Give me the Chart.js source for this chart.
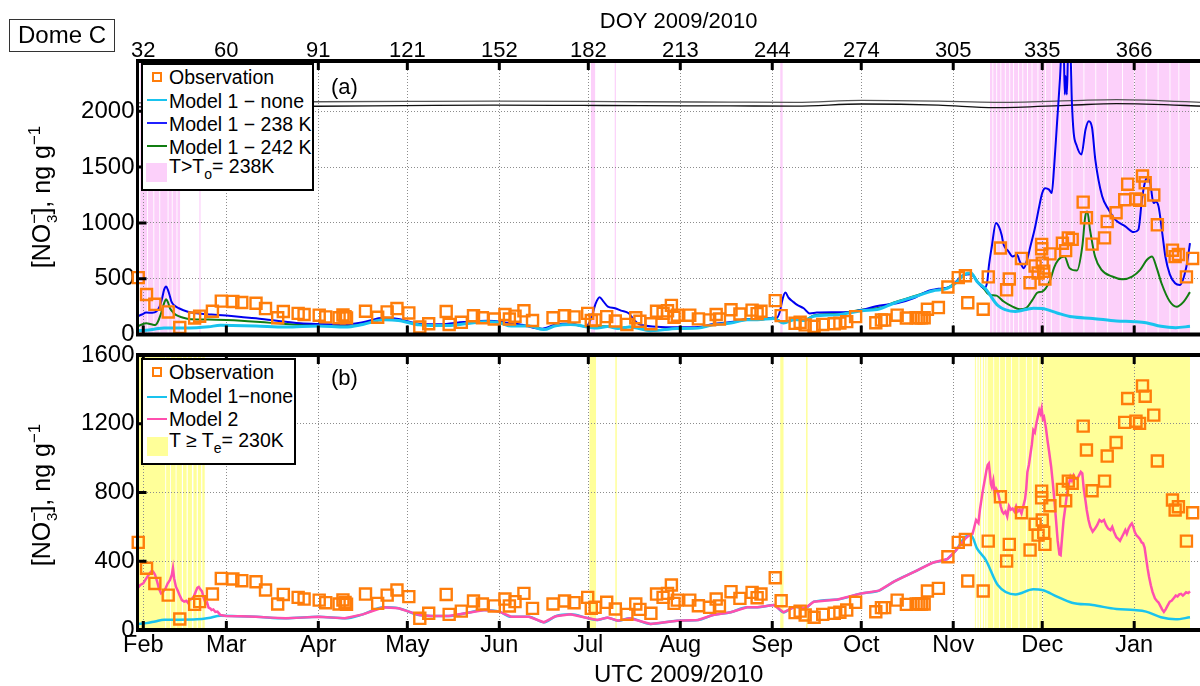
<!DOCTYPE html>
<html>
<head>
<meta charset="utf-8">
<title>Dome C nitrate</title>
<script src="https://cdn.jsdelivr.net/npm/chart.js@4.4.1/dist/chart.umd.min.js"></script>
<style>
  body { margin: 0; background: #fff; font-family: "Liberation Sans", Arial, Helvetica, sans-serif; color: #000; }
  #wrap { position: relative; width: 1200px; height: 686px; overflow: hidden; }
  #wrap canvas { position: absolute; left: 0; top: 0; }
  .abs { position: absolute; white-space: nowrap; }
  .leg { position: absolute; box-sizing: border-box; border: 2px solid #000; background: #fff; }
  .leg .t { position: absolute; left: 26px; font-size: 19.5px; line-height: 20px; white-space: nowrap; }
  .leg .ln { position: absolute; left: 3.7px; width: 20px; }
  .leg .mk { position: absolute; left: 8.7px; width: 10px; height: 10px; box-sizing: border-box; border: 2px solid #ff7d0a; }
  .sub { font-size: 14px; position: relative; top: 6px; }
  .ylab { position: absolute; width: 220px; height: 30px; line-height: 30px; font-size: 25px; text-align: center; white-space: nowrap; transform: rotate(-90deg); }
  .ylab .up { font-size: 17px; position: relative; top: -10px; }
  .ylab .dn { font-size: 15px; position: relative; top: 7px; margin-left: -9px; }
</style>
</head>
<body>
<div id="wrap">
  <canvas id="cBot" width="1230" height="686"></canvas>
  <canvas id="cTop" width="1230" height="686"></canvas>

  <div class="abs" style="left:9px;top:19px;width:106px;height:33px;box-sizing:border-box;border:1.5px solid #333;font-size:24px;line-height:30px;text-align:center;">Dome C</div>

  <div class="ylab" style="left:-68.7px;top:181.5px;">[NO<span class="up">−</span><span class="dn">3</span>], ng g<span class="up">−1</span></div>
  <div class="ylab" style="left:-68.7px;top:480px;">[NO<span class="up">−</span><span class="dn">3</span>], ng g<span class="up">−1</span></div>

  <div class="abs" style="left:331px;top:75px;font-size:22px;line-height:24px;">(a)</div>
  <div class="abs" style="left:331px;top:366px;font-size:22px;line-height:24px;">(b)</div>

  <div class="leg" style="left:141px;top:63px;width:173px;height:128px;">
    <div class="mk" style="top:7px;"></div>
    <div class="t" style="top:2px;">Observation</div>
    <div class="ln" style="top:33.5px;height:2.5px;background:#19c3ee;"></div>
    <div class="t" style="top:26px;">Model 1 − none</div>
    <div class="ln" style="top:56.7px;height:2px;background:#2020ff;"></div>
    <div class="t" style="top:49px;">Model 1 − 238 K</div>
    <div class="ln" style="top:79.7px;height:2px;background:#117d11;"></div>
    <div class="t" style="top:71.7px;">Model 1 − 242 K</div>
    <div class="ln" style="top:98.3px;height:18.4px;width:20.7px;left:3px;background:#fcd0fa;"></div>
    <div class="t" style="top:90.5px;">T&gt;T<span class="sub">o</span>= 238K</div>
  </div>

  <div class="leg" style="left:141px;top:358px;width:155px;height:107px;">
    <div class="mk" style="top:7px;"></div>
    <div class="t" style="top:2px;">Observation</div>
    <div class="ln" style="top:35.5px;height:2.5px;background:#19c3ee;"></div>
    <div class="t" style="top:26px;">Model 1−none</div>
    <div class="ln" style="top:57.8px;height:2.5px;background:#ff4fae;"></div>
    <div class="t" style="top:49px;">Model 2</div>
    <div class="ln" style="top:77.3px;height:18.4px;width:21px;background:#ffff99;"></div>
    <div class="t" style="top:69.5px;">T ≥ T<span class="sub">e</span>= 230K</div>
  </div>
</div>

<script>
// axis ticks
const doyTicks = [32, 60, 91, 121, 152, 182, 213, 244, 274, 305, 335, 366];
const monthLabels = ['Feb', 'Mar', 'Apr', 'May', 'Jun', 'Jul', 'Aug', 'Sep', 'Oct', 'Nov', 'Dec', 'Jan'];
const yTicksTop = [0, 500, 1000, 1500, 2000];
const yTicksBottom = [0, 400, 800, 1200, 1600];

// observations [DOY, ng/g]
const observation = [
  [30.3,510],[33.1,359],[35.9,271],[40.4,203],[44.3,64],[49.3,149],[51.0,165],[55.3,209],[58.3,300],[62.2,297],
  [65.2,287],[70.0,281],[73.2,233],[77.3,151],[79.2,207],[84.2,190],[86.2,180],[91.3,174],[93.5,159],[98.0,151],
  [99.3,175],[100.0,160],[100.5,150],[106.9,209],[111.0,155],[114.2,203],[117.5,233],[121.5,194],[125.2,68],[128.2,97],
  [134.1,207],[135.1,91],[139.2,110],[143.3,169],[146.3,151],[150.3,140],[153.9,180],[155.4,140],[157.3,165],[160.3,213],
  [163.2,126],[170.1,151],[174.0,169],[177.2,159],[181.8,190],[183.0,126],[184.3,132],[188.2,161],[191.1,122],[195.0,91],
  [198.0,151],[199.4,120],[203.1,97],[205.0,209],[207.2,190],[208.7,213],[210.0,262],[210.9,155],[212.0,174],[216.2,174],
  [219.1,141],[222.9,132],[225.1,180],[226.2,140],[230.1,223],[233.1,184],[237.2,219],[238.9,188],[240.2,209],[245.0,304],
  [247.0,170],[251.7,101],[253.4,110],[255.1,87],[258.1,74],[261.0,91],[264.9,97],[266.8,103],[269.1,116],[272.1,161],
  [278.9,106],[280.8,130],[281.9,130],[286.1,174],[289.2,149],[292.5,151],[293.4,151],[294.3,151],[295.2,151],[296.3,227],
  [300.0,242],[303.2,426],[306.7,510],[309.1,527],[309.9,285],[315.1,227],[316.8,517],[320.9,775],[323.0,401],[323.9,498],
  [328.0,682],[330.9,465],[332.6,615],[333.6,552],[334.8,808],[334.8,769],[335.0,640],[335.5,568],[335.9,498],[337.6,723],
  [341.8,818],[342.9,752],[343.8,866],[345.1,853],[348.8,1186],[349.9,1047],[351.8,810],[356.0,866],[356.9,1012],[359.9,1091],
  [362.8,1208],[363.8,1347],[366.6,1215],[367.8,1202],[368.8,1420],[369.7,1360],[372.6,1250],[373.8,983],[378.9,756],[379.8,698],
  [380.9,717],[383.6,517],[385.7,682]
];

// Model 1 - none
const model1None = [
  [30,35],[33,40],[36,50],[39,60],[44,60],[50,62],[54,70],[58,83],[62,82],[70,77],[80,68],[91,77],[100,68],[106,91],
  [113,132],[118,126],[125,87],[129,81],[135,81],[140.5,97],[147,116],[152,107],[156,77],[162,77],[167,45],[171,80],
  [176,91],[182,68],[185,58],[188.5,72],[192,54],[196,68],[203,35],[212,54],[219,58],[224,87],[230,103],[235.5,132],
  [239,132],[244.5,145],[247.8,103],[251.7,136],[255,126],[258,165],[266,178],[274,213],[280,229],[285,281],[292,339],
  [298,391],[303,413],[306,465],[309,542],[311,552],[313,475],[316,407],[320,262],[326,207],[332,237],[335,233],
  [340,194],[345,159],[352,145],[360,122],[366,116],[370,107],[375,74],[380,62],[384.8,74]
];

// Model 1 - 238 K
const model1K238 = [
  [30,161],[31.5,180],[33,197],[35,195],[36.4,206],[37.5,250],[38.3,320],[39,400],[39.7,430],[40.3,400],[41,340],
  [41.5,295],[42.5,260],[44,236],[47,205],[50,191],[55,180],[60,170],[65,158],[70,146],[75,130],[80,116],[85,102],
  [91,95],[100,90],[106,110],[113,150],[118,140],[125,96],[132,92],[140,112],[148,125],[155,106],[160,86],[166,52],
  [171,90],[176,100],[180,78],[181.5,80],[183,150],[184.5,280],[185.8,335],[187,300],[188.6,250],[191,236],[193,215],
  [195.6,191],[197.5,130],[199,95],[205,71],[212,65],[219,68],[224,95],[230,112],[235.5,140],[239,140],[244.5,152],
  [245.5,150],[246.5,200],[247.5,320],[248.4,376],[249.5,330],[251,295],[252.4,266],[254.6,236],[256.6,190],[259,197],
  [264,200],[269,200],[274,220],[279,254],[286,281],[292,330],[296,385],[300,410],[304.4,430],[306,475],[308.4,535],
  [311,540],[313.5,460],[315.5,415],[316.5,480],[317,610],[318,789],[319.4,999],[320.5,960],[321.3,894],[322,804],
  [323.5,750],[325,699],[326.5,714],[327.5,650],[328.8,595],[330,680],[331,789],[332.5,950],[334,1150],[335,1268],
  [336,1310],[337.3,1298],[338.2,1268],[339,1500],[340,1900],[341,2300],[341.6,2600],[342.2,2600],[342.6,2150],
  [342.9,2315],[343.3,2150],[343.8,2600],[344.4,2600],[345,2079],[345.6,1807],[346.5,1700],[348.2,1612],[349.6,1837],
  [350.7,1911],[351.8,1852],[352.9,1565],[355.2,1238],[357.4,1119],[359.6,1029],[363,969],[365.8,918],[367.4,939],
  [368.6,1208],[369.5,1350],[370.2,1400],[371.4,1358],[372.5,1178],[373.3,1190],[374.2,1148],[375.5,900],[376.5,699],
  [378,540],[379.8,460],[381.4,445],[383.6,610],[384.8,820]
];

// Model 1 - 242 K
const model1K242 = [
  [30,71],[31.5,90],[33,101],[35,90],[36,86],[37,120],[38,191],[39,280],[39.7,317],[40.3,290],[41,236],[42,200],
  [43,176],[45,155],[48,137],[54,135],[60,131],[65,125],[70,116],[75,105],[80,95],[85,88],[91,85],[100,75],[106,95],
  [113,135],[118,128],[125,90],[132,86],[140.5,100],[147,118],[152,109],[156,80],[162,79],[167,47],[171,82],[176,93],
  [182,70],[188.5,74],[192,56],[196,70],[203,37],[212,56],[219,60],[224,89],[230,105],[235.5,134],[239,134],
  [244.5,147],[247.8,108],[251.7,142],[255,132],[258,172],[266,188],[274,222],[280,240],[285,288],[292,345],[298,395],
  [303,420],[306,470],[309,540],[311,545],[313.5,465],[315.5,405],[316.5,370],[317.5,355],[319.6,349],[322,296],
  [325,250],[327.5,227],[329.5,236],[331.7,311],[333.4,376],[335,385],[337.7,490],[339,600],[340.4,670],[342.5,699],
  [344.2,595],[346.7,573],[348.5,789],[349.5,1058],[350.2,1103],[351.1,939],[352.8,699],[355,580],[358.6,520],
  [362,496],[365.3,520],[368,580],[370.3,670],[372,699],[373.6,595],[375.2,460],[378,296],[380.3,250],[382.7,296],
  [384.8,380]
];

// Model 2
const model2 = [
  [30.3,248],[31,262],[32,271],[33,300],[34,326],[34.6,340],[35,345],[35.5,335],[36,320],[36.7,280],[37.3,240],
  [38,213],[38.6,220],[39.5,242],[40.2,270],[41,291],[41.6,320],[42,360],[42.4,300],[43,252],[43.6,230],[44.3,200],
  [45,174],[45.8,165],[46.5,170],[47,159],[47.6,175],[48.3,180],[49,194],[49.6,220],[50.2,245],[50.7,250],[51.3,235],
  [51.8,225],[52.3,190],[53,155],[53.5,160],[54,130],[54.6,125],[55,116],[55.6,120],[56.3,105],[57,107],[57.6,95],
  [58,87],[60,81],[65,80],[70,77],[75,72],[80,68],[85,72],[91,77],[96,72],[100,68],[106,91],[110,115],[113,132],
  [118,126],[121,110],[125,87],[129,81],[135,81],[140.5,97],[147,116],[152,107],[156,77],[162,77],[167,45],[171,80],
  [176,91],[182,68],[185,58],[188.5,72],[192,54],[196,68],[203,35],[212,54],[219,58],[224,87],[230,103],[235.5,132],
  [239,132],[244.5,145],[247.8,103],[251.7,136],[255,126],[258,165],[266,178],[274,213],[280,229],[285,281],[292,339],
  [298,391],[303,413],[306,465],[309,530],[310.5,552],[311.5,560],[312,591],[312.7,640],[313.5,622],[314,700],
  [314.7,780],[315.2,833],[315.7,880],[316.2,930],[316.6,960],[317,969],[317.3,920],[317.7,850],[318,833],[318.5,870],
  [319,790],[319.5,820],[320,804],[320.6,760],[321,720],[321.5,690],[322,678],[322.6,690],[323.2,660],[323.8,720],
  [324.4,700],[325,707],[325.6,690],[326.2,720],[326.8,690],[327.4,700],[328,678],[328.6,720],[329.2,760],[329.6,820],
  [330,920],[330.5,960],[331,1020],[331.5,1080],[332,1163],[332.5,1150],[333,1200],[333.5,1240],[334,1279],[334.4,1260],
  [334.8,1290],[335.2,1230],[335.6,1240],[336.2,1180],[336.8,1100],[337.3,1040],[338,950],[338.6,850],[339,775],
  [339.6,650],[340.2,520],[340.8,440],[341.2,436],[341.6,520],[342.2,640],[342.8,717],[343.4,800],[344,850],[344.5,891],
  [345,870],[345.6,900],[346.2,880],[346.8,878],[347.4,900],[348,920],[348.5,911],[349,820],[349.6,750],[350,698],
  [350.6,640],[351.2,600],[352,572],[352.8,590],[353.5,610],[354.3,640],[355,630],[355.8,640],[356.5,610],[357.2,590],
  [358,581],[358.6,600],[359.2,570],[360,540],[360.6,530],[361.2,519],[361.8,540],[362.4,560],[363,581],[363.5,560],
  [364.1,590],[364.7,610],[365.2,620],[365.7,600],[366.2,570],[366.8,550],[367.3,542],[367.9,530],[368.5,510],[369,504],
  [369.5,480],[370,420],[370.5,360],[371,310],[371.6,260],[372.2,220],[373,184],[373.6,170],[374.2,160],[374.8,140],
  [375.4,120],[376,106],[376.6,120],[377.2,140],[378,165],[378.6,170],[379.3,185],[380,200],[380.6,195],[381.2,207],
  [381.8,210],[382.4,200],[383,210],[383.5,220],[384.2,215],[384.8,225]
];

// the double line near 2050-2100 in panel (a)
const refUpper = [[30,2075],[60,2080],[91,2085],[120,2088],[150,2090],[180,2088],[200,2085],[230,2082],[252,2080],[274,2097],[300,2090],[319,2080],[345,2095],[360,2105],[395,2072]];
const refLower = [[30,2040],[60,2042],[91,2045],[120,2050],[150,2055],[180,2052],[200,2050],[230,2048],[252,2046],[274,2065],[300,2055],[319,2032],[345,2055],[360,2068],[395,2040]];

// T > To = 238K periods (panel a)
const pinkSpans = [
  [31.0,33.3],[33.6,35.4],[35.7,37.4],[37.7,40.2],[40.5,41.6],[41.9,43.2],[43.5,44.4],[50.9,51.3],
  [182.9,184.3],[190.9,191.3],[246.7,247.5],
  [317.4,318.2],[318.5,319.5],[319.8,320.9],[321.2,322.4],[322.7,323.9],[324.2,325.2],[325.5,326.9],[327.2,328.3],
  [328.6,329.9],[330.2,331.4],[331.7,333.4],[333.7,335.9],[336.2,337.9],[338.2,340.9],[341.2,344.9],[345.2,348.9],
  [349.2,352.9],[353.2,356.9],[357.2,361.9],[362.2,365.9],[366.2,369.9],[370.2,373.9],[374.2,377.9],[378.2,380.9],
  [381.2,384.8]
];

// T >= Te = 230K periods (panel b)
const yellowSpans = [
  [30.5,39.4],[39.7,41.0],[41.3,42.9],[43.2,45.0],[45.4,46.6],[47.0,48.4],[48.9,50.0],[50.4,51.5],[51.9,52.7],
  [182.4,184.6],[191.1,191.6],[246.7,247.8],[255.4,255.9],
  [312.3,312.6],[313.2,313.5],[314.0,314.4],[315.0,315.4],[315.8,316.2],[316.6,318.5],[318.8,320.5],[320.8,322.5],
  [322.8,324.5],[324.8,327.0],[327.3,329.5],[329.8,331.5],[331.8,333.5],[333.8,335.0],[335.3,384.8]
];

const FONT = '"Liberation Sans", Arial, Helvetica, sans-serif';
const ORANGE = '#ff7d0a', CYAN = '#19c3ee', BLUE = '#0000f0', GREEN = '#117d11', PINK = '#ff4fae', GRID = '#8c8c8c';
const xMin = 30.05, xMax = 394.85;

Chart.defaults.font.family = FONT;
Chart.defaults.color = '#000';

const pts = arr => arr.map(p => ({ x: p[0], y: p[1] }));

// shaded temperature periods, drawn under the grid
const shading = {
  id: 'shading',
  beforeDraw(chart, args, opts) {
    const { ctx, chartArea: a, scales: { x } } = chart;
    ctx.save();
    ctx.fillStyle = opts.color;
    opts.spans.forEach(s => {
      const x0 = x.getPixelForValue(s[0]);
      const x1 = x.getPixelForValue(s[1]);
      ctx.fillRect(x0, a.top, Math.max(x1 - x0, 1), a.bottom - a.top);
    });
    ctx.restore();
  }
};

// matlab style box with inward ticks
const frameTicks = {
  id: 'frameTicks',
  afterDraw(chart) {
    const { ctx, chartArea: a, scales: { x, y } } = chart;
    ctx.save();
    ctx.strokeStyle = '#000';
    ctx.lineWidth = 3;
    ctx.beginPath();
    x.ticks.forEach(t => {
      const px = x.getPixelForValue(t.value);
      ctx.moveTo(px, a.top); ctx.lineTo(px, a.top + 9);
      ctx.moveTo(px, a.bottom); ctx.lineTo(px, a.bottom - 9);
    });
    y.ticks.forEach(t => {
      const py = y.getPixelForValue(t.value);
      ctx.moveTo(a.left, py); ctx.lineTo(a.left + 9, py);
    });
    ctx.stroke();
    ctx.lineWidth = 4;
    ctx.beginPath();
    ctx.moveTo(a.left - 1.5, a.top); ctx.lineTo(a.right + 5, a.top);
    ctx.moveTo(a.left - 1.5, a.bottom); ctx.lineTo(a.right + 5, a.bottom);
    ctx.stroke();
    ctx.lineWidth = 3;
    ctx.beginPath();
    ctx.moveTo(a.left, a.top); ctx.lineTo(a.left, a.bottom);
    ctx.stroke();
    ctx.restore();
  }
};

function obsDataset() {
  return {
    label: 'Observation', data: pts(observation), showLine: false,
    pointStyle: 'rect', pointRadius: 7.8, pointBorderWidth: 2.4,
    borderColor: ORANGE, pointBorderColor: ORANGE, pointBackgroundColor: 'rgba(0,0,0,0)', clip: 12
  };
}

function lineDataset(label, arr, color, width, smooth) {
  return {
    label: label, data: pts(arr), borderColor: color, borderWidth: width, pointRadius: 0,
    cubicInterpolationMode: smooth ? 'monotone' : 'default', tension: 0
  };
}

function yScale(max, ticks) {
  return {
    type: 'linear', min: 0, max: max,
    afterBuildTicks: s => { s.ticks = ticks.map(v => ({ value: v })); },
    afterFit: s => { s.width = 137.5; },
    ticks: { font: { size: 24 }, color: '#000', padding: 3, callback: v => String(v) },
    grid: { color: GRID, drawTicks: false, lineWidth: 1 },
    border: { display: false, dash: [1, 2] }
  };
}

// panel (a)
new Chart(document.getElementById('cTop'), {
  type: 'line',
  data: {
    datasets: [
      obsDataset(),
      lineDataset('Model 1 − none', model1None, CYAN, 3, true),
      lineDataset('Model 1 − 238 K', model1K238, BLUE, 2, true),
      lineDataset('Model 1 − 242 K', model1K242, GREEN, 2, true),
      lineDataset('upper', refUpper, '#555', 1.3, true),
      lineDataset('lower', refLower, '#111', 1.3, true)
    ]
  },
  options: {
    responsive: false, animation: false, devicePixelRatio: 1,
    layout: { padding: { left: 0, right: 5, top: 0, bottom: 351.4 } },
    plugins: {
      legend: { display: false }, tooltip: { enabled: false },
      shading: { spans: pinkSpans, color: '#fcd0fa' }
    },
    scales: {
      x: {
        type: 'linear', position: 'top', min: xMin, max: xMax,
        afterBuildTicks: s => { s.ticks = doyTicks.map(v => ({ value: v })); },
        afterFit: s => { s.height = 61; },
        ticks: { autoSkip: false, maxRotation: 0, font: { size: 22, lineHeight: 0.8 }, padding: 1, color: '#000', callback: v => String(v) },
        grid: { color: GRID, drawTicks: false, lineWidth: 1 },
        border: { display: false, dash: [1, 2] },
        title: { display: true, text: 'DOY 2009/2010', font: { size: 22, lineHeight: 1.2 }, padding: { top: 8.5, bottom: 0 }, color: '#000' }
      },
      y: yScale(2450, yTicksTop)
    }
  },
  plugins: [shading, frameTicks]
});

// panel (b)
new Chart(document.getElementById('cBot'), {
  type: 'line',
  data: {
    datasets: [
      obsDataset(),
      lineDataset('Model 2', model2, PINK, 2.5, false),
      lineDataset('Model 1−none', model1None, CYAN, 2.5, true)
    ]
  },
  options: {
    responsive: false, animation: false, devicePixelRatio: 1,
    layout: { padding: { left: 0, right: 5, top: 355, bottom: 0 } },
    plugins: {
      legend: { display: false }, tooltip: { enabled: false },
      shading: { spans: yellowSpans, color: '#ffff99' }
    },
    scales: {
      x: {
        type: 'linear', position: 'bottom', min: xMin, max: xMax,
        afterBuildTicks: s => { s.ticks = doyTicks.map(v => ({ value: v })); },
        afterFit: s => { s.height = 56; },
        ticks: { autoSkip: false, maxRotation: 0, font: { size: 23.5, lineHeight: 1.2 }, padding: 1, color: '#000',
                 callback: v => monthLabels[doyTicks.indexOf(v)] },
        grid: { color: GRID, drawTicks: false, lineWidth: 1 },
        border: { display: false, dash: [1, 2] },
        title: { display: true, text: 'UTC 2009/2010', font: { size: 24, lineHeight: 0.85 }, padding: 0, color: '#000' }
      },
      y: yScale(1600, yTicksBottom)
    }
  },
  plugins: [shading, frameTicks]
});
</script>
</body>
</html>
